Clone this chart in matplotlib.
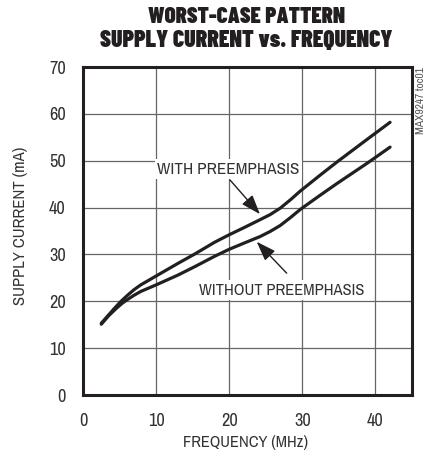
import matplotlib
matplotlib.use("Agg")
import matplotlib.pyplot as plt
from matplotlib import font_manager

avail = {f.name for f in font_manager.fontManager.ttflist}


def pick(cands, default):
    for c in cands:
        if c in avail:
            return c
    return default


narrow = pick(['Liberation Sans Narrow', 'Archivo Narrow', 'Roboto Condensed',
               'PT Sans Narrow', 'Pragati Narrow', 'Fira Sans Condensed',
               'IBM Plex Sans Condensed', 'Encode Sans Condensed',
               'Asap Condensed', 'Barlow Semi Condensed'], 'Liberation Sans')
heavy = pick(['Barlow Condensed', 'Roboto Condensed', 'Fira Sans Extra Condensed',
              'Archivo Narrow', 'Fira Sans Condensed', 'IBM Plex Sans Condensed',
              'Encode Sans Condensed', 'PT Sans Narrow'], narrow)
plt.rcParams['font.family'] = [narrow, 'DejaVu Sans']

# ---- data ----
freq_with = [2.5, 3.4, 4.3, 5.2, 6.1, 7.0, 7.9, 10.0, 13.0, 15.3, 18.0, 20.0, 22.0,
             24.2, 25.6, 27.0, 28.4, 29.7, 32.5, 34.8, 38.9, 42.0]
curr_with = [15.3, 16.9, 18.5, 20.0, 21.3, 22.5, 23.5, 25.4, 28.1, 30.1, 32.6, 34.2,
             35.7, 37.4, 38.5, 39.9, 41.7, 43.5, 47.0, 49.8, 54.6, 58.2]
freq_without = [2.5, 3.5, 4.5, 5.3, 6.1, 7.0, 7.9, 10.0, 13.0, 15.3, 18.0, 20.0, 22.0,
                24.2, 25.6, 27.0, 28.4, 29.8, 32.5, 34.8, 38.9, 42.0]
curr_without = [15.1, 16.9, 18.4, 19.5, 20.4, 21.3, 22.1, 23.5, 25.6, 27.4, 29.6, 31.1,
                32.4, 33.8, 34.9, 36.2, 37.9, 39.7, 42.7, 45.2, 49.5, 52.9]

xticks = [0, 10, 20, 30, 40]
yticks = [0, 10, 20, 30, 40, 50, 60, 70]

W, H = 426, 458
fig = plt.figure(figsize=(W / 100, H / 100), dpi=100)
ax = fig.add_axes([83 / W, 1 - 395 / H, (412 - 83) / W, (395 - 67) / H])

ink = '#231f20'
ax.plot(freq_with, curr_with, color=ink, lw=2.3, solid_joinstyle='round',
        solid_capstyle='round', zorder=3)
ax.plot(freq_without, curr_without, color=ink, lw=2.3, solid_joinstyle='round',
        solid_capstyle='round', zorder=3)

ax.set_xlim(0, 45)
ax.set_ylim(0, 70)
ax.set_xticks(xticks)
ax.set_yticks(yticks)
ax.grid(True, color='#666666', lw=0.9)
ax.set_axisbelow(True)
for s in ax.spines.values():
    s.set_linewidth(2.2)
    s.set_color(ink)

fig.canvas.draw()
r = fig.canvas.get_renderer()


def fit(t, target, vertical=False):
    bb = t.get_window_extent(r)
    cur = bb.height if vertical else bb.width
    t.set_fontsize(t.get_fontsize() * target / cur)


# tick label size from measured width of "10" (~16.7 px)
probe = fig.text(0.5, 0.5, '10', fontsize=13)
bb = probe.get_window_extent(r)
tick_fs = 13 * 16.7 / bb.width
probe.remove()
ax.tick_params(length=0, labelsize=tick_fs, colors='#333333')
ax.tick_params(axis='x', pad=13)
ax.tick_params(axis='y', pad=12.5)

grey = '#333333'
t1 = fig.text(246 / W, 1 - 16.7 / H, 'WORST-CASE PATTERN', ha='center', va='center',
              fontsize=15, fontweight='black', family=[heavy, 'DejaVu Sans'], color=ink)
t2 = fig.text(246 / W, 1 - 40.8 / H, 'SUPPLY CURRENT vs. FREQUENCY', ha='center',
              va='center', fontsize=15, fontweight='black', family=[heavy, 'DejaVu Sans'],
              color=ink)
fit(t1, 197)
fit(t2, 292)

xl = fig.text(245.5 / W, 1 - 443 / H, 'FREQUENCY (MHz)', ha='center', va='center',
              fontsize=12, color=grey)
fit(xl, 125)
yl = fig.text(20.5 / W, 1 - 226 / H, 'SUPPLY CURRENT (mA)', ha='center', va='center',
              rotation=90, fontsize=12, color=grey)
fit(yl, 158, vertical=True)

code = fig.text(420.5 / W, 1 - 101 / H, 'MAX9247 toc01', ha='center', va='center',
                rotation=90, fontsize=7, color='#555555')
fit(code, 67, vertical=True)

bbox = dict(boxstyle='square,pad=0.15', fc='white', ec='none')
arrow = dict(arrowstyle='-|>,head_length=0.7,head_width=0.25', color=ink, lw=1.0,
             mutation_scale=17, shrinkA=0, shrinkB=0)
ax.annotate('', xy=(24.2, 38.6), xytext=(20.1, 45.9), arrowprops=arrow, zorder=4)
a1 = ax.text(19.87, 48.2, 'WITH PREEMPHASIS', ha='center', va='center', fontsize=12.5,
             color=grey, bbox=bbox, zorder=5)
ax.annotate('', xy=(23.76, 32.7), xytext=(27.86, 26.0), arrowprops=arrow, zorder=4)
a2 = ax.text(27.18, 22.4, 'WITHOUT PREEMPHASIS', ha='center', va='center', fontsize=12.5,
             color=grey, bbox=bbox, zorder=5)
fig.canvas.draw()
for t, w in ((a1, 143), (a2, 167)):
    t.set_bbox(None)
    fig.canvas.draw()
    fit(t, w)
    t.set_bbox(bbox)

fig.savefig('out.png', dpi=100)
